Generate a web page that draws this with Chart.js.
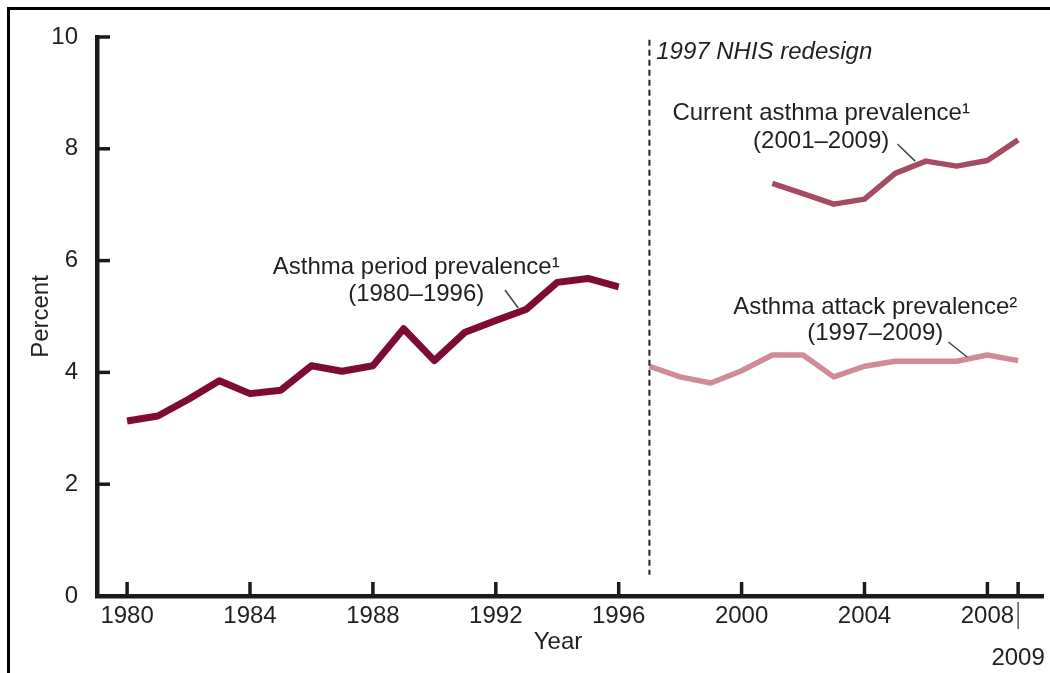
<!DOCTYPE html>
<html>
<head>
<meta charset="utf-8">
<script src="https://cdn.jsdelivr.net/npm/chart.js@4.4.1/dist/chart.umd.min.js"></script>
<style>
html,body{margin:0;padding:0;background:#fff;}
#wrap{position:relative;width:1050px;height:673px;}
#frame{position:absolute;left:7px;top:7px;right:0;bottom:0;border-top:3px solid #000;border-left:3px solid #000;pointer-events:none;}
</style>
</head>
<body>
<div id="wrap"><canvas id="c" width="1050" height="673"></canvas><div id="frame"></div></div>
<script>
// data (percent)
const periodYears = [1980,1981,1982,1983,1984,1985,1986,1987,1988,1989,1990,1991,1992,1993,1994,1995,1996];
const periodValues = [3.13,3.22,3.52,3.85,3.62,3.68,4.12,4.02,4.12,4.78,4.21,4.72,4.93,5.13,5.61,5.68,5.53];
const currentYears = [2001,2002,2003,2004,2005,2006,2007,2008,2009];
const currentValues = [7.38,7.2,7.01,7.1,7.56,7.78,7.69,7.79,8.16];
const attackYears = [1997,1998,1999,2000,2001,2002,2003,2004,2005,2006,2007,2008,2009];
const attackValues = [4.11,3.92,3.81,4.03,4.31,4.31,3.92,4.11,4.2,4.2,4.2,4.31,4.21];
const xTickYears = [1980,1984,1988,1992,1996,2000,2004,2008,2009];
const yTickValues = [0,2,4,6,8,10];
const redesignYear = 1997;

const FONT = "'Liberation Sans', Arial, Helvetica, sans-serif";
const INK = '#231f20';

const pts = (xs, ys) => xs.map((x, i) => ({x, y: ys[i]}));

// label text, placed in data units
const notes = [
  {lines: ['Asthma period prevalence\u00b9', '(1980\u20131996)'], x: 1989.41, y: [5.886, 5.40], lead: [1992.30, 5.474, 1992.73, 5.152]},
  {lines: ['Current asthma prevalence\u00b9', '(2001\u20132009)'], x: 2002.59, y: [8.64, 8.14], lead: [2005.07, 8.086, 2005.65, 7.78]},
  {lines: ['Asthma attack prevalence\u00b2', '(1997\u20132009)'], x: 2004.35, y: [5.17, 4.69], lead: [2006.73, 4.544, 2007.34, 4.275]}
];

const overlay = {
  id: 'overlay',
  afterDraw(chart) {
    const {ctx, chartArea: a} = chart;
    const x = chart.scales.x, y = chart.scales.y;
    const seg = (x1, y1, x2, y2) => { ctx.beginPath(); ctx.moveTo(x1, y1); ctx.lineTo(x2, y2); ctx.stroke(); };
    ctx.save();
    // inward tick marks
    ctx.strokeStyle = '#1a1a1a'; ctx.lineWidth = 3.5;
    xTickYears.forEach(v => { const px = x.getPixelForValue(v); seg(px, a.bottom, px, a.bottom - 14); });
    yTickValues.forEach(v => { const py = y.getPixelForValue(v); seg(a.left, py, a.left + 13, py); });
    // 2009 label connector
    ctx.strokeStyle = '#555'; ctx.lineWidth = 1.5;
    const p09 = x.getPixelForValue(2009);
    seg(p09, a.bottom + 6, p09, a.bottom + 33);
    // redesign divider
    ctx.strokeStyle = INK; ctx.lineWidth = 2; ctx.setLineDash([6, 4]);
    const pr = x.getPixelForValue(redesignYear);
    seg(pr, y.getPixelForValue(9.95), pr, y.getPixelForValue(0.38));
    ctx.setLineDash([]);
    ctx.fillStyle = INK;
    ctx.font = 'italic 24px ' + FONT;
    ctx.textAlign = 'left'; ctx.textBaseline = 'middle';
    ctx.fillText('1997 NHIS redesign', x.getPixelForValue(1997.22), y.getPixelForValue(9.73));
    // series labels
    ctx.font = '24px ' + FONT; ctx.textAlign = 'center';
    ctx.strokeStyle = '#444'; ctx.lineWidth = 1.5;
    notes.forEach(n => {
      n.lines.forEach((t, i) => ctx.fillText(t, x.getPixelForValue(n.x), y.getPixelForValue(n.y[i])));
      seg(x.getPixelForValue(n.lead[0]), y.getPixelForValue(n.lead[1]), x.getPixelForValue(n.lead[2]), y.getPixelForValue(n.lead[3]));
    });
    ctx.restore();
  }
};

new Chart(document.getElementById('c'), {
  type: 'line',
  data: {
    datasets: [
      {label: 'Asthma period prevalence', data: pts(periodYears, periodValues), borderColor: '#7e0b36', borderWidth: 7},
      {label: 'Current asthma prevalence', data: pts(currentYears, currentValues), borderColor: '#a64b64', borderWidth: 5.5},
      {label: 'Asthma attack prevalence', data: pts(attackYears, attackValues), borderColor: '#d08b98', borderWidth: 5.5}
    ]
  },
  options: {
    responsive: false,
    animation: false,
    layout: {padding: {top: 37, right: 7, left: 0, bottom: 0}},
    elements: {point: {radius: 0}, line: {tension: 0, borderJoinStyle: 'round', fill: false}},
    plugins: {legend: {display: false}, tooltip: {enabled: false}},
    scales: {
      x: {
        type: 'linear', min: 1979.02, max: 2009.81,
        afterBuildTicks: s => { s.ticks = xTickYears.map(v => ({value: v})); },
        afterFit: s => { s.height = 77; },
        grid: {display: false, drawTicks: false},
        border: {display: true, width: 4.5, color: '#1a1a1a'},
        ticks: {
          autoSkip: false, maxRotation: 0, padding: -1, color: INK,
          font: {family: FONT, size: 24, lineHeight: 1.75},
          callback: v => v === 2009 ? ['', '2009'] : String(v)
        },
        title: {display: true, text: 'Year\u2003', color: INK, font: {family: FONT, size: 24}, padding: {top: 0, bottom: 16}}
      },
      y: {
        min: 0, max: 10,
        afterBuildTicks: s => { s.ticks = yTickValues.map(v => ({value: v})); },
        afterFit: s => { s.width = 97; },
        grid: {display: false, drawTicks: false},
        border: {display: true, width: 4.5, color: '#1a1a1a'},
        ticks: {padding: 19, color: INK, font: {family: FONT, size: 24}},
        title: {display: true, text: 'Percent', color: INK, font: {family: FONT, size: 24}, padding: {top: 27, bottom: 0}}
      }
    }
  },
  plugins: [overlay]
});
</script>
</body>
</html>
